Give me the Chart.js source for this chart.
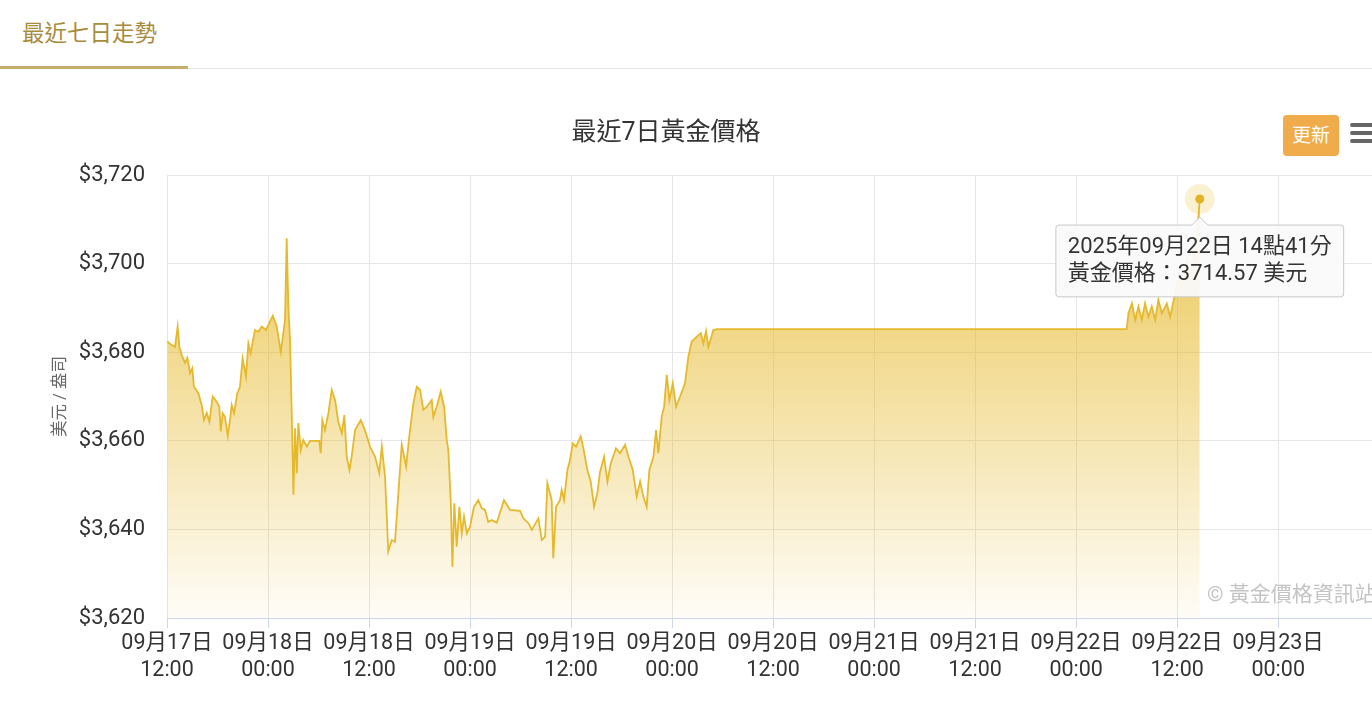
<!DOCTYPE html>
<html lang="zh-Hant">
<head>
<meta charset="utf-8">
<title>最近7日黃金價格</title>
<script src="https://cdn.jsdelivr.net/npm/chart.js@4.4.1/dist/chart.umd.min.js"></script>
<style>
    html, body {
        margin: 0;
        padding: 0;
        width: 1372px;
        height: 712px;
        overflow: hidden;
        background: #fff;
        font-family: Roboto, "Noto Sans CJK TC", sans-serif;
    }
    #wrap { position: absolute; left: 0; top: 0; width: 1420px; height: 712px; }
    #chart { position: absolute; left: 0; top: 0; }
    .tab { position: absolute; left: 22px; top: 15px; font-size: 22.5px; color: #a98b3d; }
    .tab-bar { position: absolute; left: 0; top: 66px; width: 188px; height: 3px; background: #c8ad6b; }
    .tab-line { position: absolute; left: 188px; top: 68px; width: 1200px; height: 1px; background: #e4e4e4; }
    .title { position: absolute; left: 0; top: 111px; width: 1332px; text-align: center; font-size: 25px; color: #333; }
    .btn {
        position: absolute; left: 1283px; top: 115px; width: 56px; height: 41px;
        background: #f0ab4b; border-radius: 4px; color: #fff; font-size: 19px;
        line-height: 41px; text-align: center;
    }
    .menu span { position: absolute; left: 1350px; width: 26px; height: 3.5px; background: #666; border-radius: 2px; }
    .credit { position: absolute; left: 1207px; top: 577px; font-size: 21px; color: #c4c4c4; white-space: nowrap; }
</style>
</head>
<body>
<div id="wrap">
    <div class="tab">最近七日走勢</div>
    <div class="tab-bar"></div>
    <div class="tab-line"></div>
    <canvas id="chart" width="1420" height="712"></canvas>
    <div class="title">最近7日黃金價格</div>
    <div class="btn">更新</div>
    <div class="menu"><span style="top:123px"></span><span style="top:131px"></span><span style="top:139px"></span></div>
    <div class="credit">© 黃金價格資訊站</div>
</div>
<script>
// quote times (Taipei, 2025)
const times = [
    '09-17 12:02', '09-17 12:34', '09-17 12:57', '09-17 13:16', '09-17 13:28', '09-17 13:45',
    '09-17 14:08', '09-17 14:25', '09-17 14:44', '09-17 15:00', '09-17 15:12', '09-17 15:43',
    '09-17 16:07', '09-17 16:24', '09-17 16:43', '09-17 17:02', '09-17 17:26', '09-17 17:54',
    '09-17 18:13', '09-17 18:23', '09-17 18:37', '09-17 18:53', '09-17 19:13', '09-17 19:29',
    '09-17 19:41', '09-17 19:58', '09-17 20:21', '09-17 20:40', '09-17 20:59', '09-17 21:23',
    '09-17 21:40', '09-17 21:56', '09-17 22:27', '09-17 22:51', '09-17 23:15', '09-17 23:46',
    '09-18 00:02', '09-18 00:34', '09-18 01:02', '09-18 01:31', '09-18 01:49', '09-18 02:01',
    '09-18 02:13', '09-18 02:25', '09-18 02:37', '09-18 02:49', '09-18 03:01', '09-18 03:13',
    '09-18 03:25', '09-18 03:36', '09-18 03:53', '09-18 04:11', '09-18 04:36', '09-18 04:59',
    '09-18 06:05', '09-18 06:16', '09-18 06:27', '09-18 06:46', '09-18 07:10', '09-18 07:34',
    '09-18 07:58', '09-18 08:21', '09-18 08:46', '09-18 09:04', '09-18 09:21', '09-18 09:40',
    '09-18 09:56', '09-18 10:20', '09-18 11:01', '09-18 11:31', '09-18 12:07', '09-18 12:43',
    '09-18 13:13', '09-18 13:31', '09-18 13:54', '09-18 14:17', '09-18 14:42', '09-18 15:05',
    '09-18 15:29', '09-18 15:53', '09-18 16:24', '09-18 16:47', '09-18 17:16', '09-18 17:40',
    '09-18 18:04', '09-18 18:27', '09-18 18:51', '09-18 19:27', '09-18 19:38', '09-18 20:02',
    '09-18 20:31', '09-18 20:55', '09-18 21:14', '09-18 21:25', '09-18 21:43', '09-18 21:54',
    '09-18 22:08', '09-18 22:25', '09-18 22:44', '09-18 23:01', '09-18 23:17', '09-18 23:37',
    '09-19 00:00', '09-19 00:28', '09-19 00:59', '09-19 01:23', '09-19 01:47', '09-19 02:10',
    '09-19 02:35', '09-19 03:10', '09-19 04:02', '09-19 04:45', '09-19 05:56', '09-19 06:20',
    '09-19 06:56', '09-19 07:20', '09-19 08:07', '09-19 08:31', '09-19 08:55', '09-19 09:11',
    '09-19 09:42', '09-19 09:53', '09-19 10:13', '09-19 10:41', '09-19 10:53', '09-19 11:10',
    '09-19 11:34', '09-19 11:53', '09-19 12:12', '09-19 12:35', '09-19 13:09', '09-19 13:28',
    '09-19 13:56', '09-19 14:20', '09-19 14:44', '09-19 15:07', '09-19 15:26', '09-19 15:55',
    '09-19 16:19', '09-19 16:43', '09-19 17:20', '09-19 17:49', '09-19 18:25', '09-19 18:49',
    '09-19 19:20', '09-19 19:48', '09-19 20:12', '09-19 20:35', '09-19 20:59', '09-19 21:18',
    '09-19 21:47', '09-19 22:06', '09-19 22:22', '09-19 22:46', '09-19 23:03', '09-19 23:22',
    '09-19 23:41', '09-20 00:05', '09-20 00:28', '09-20 00:57', '09-20 01:32', '09-20 01:56',
    '09-20 02:20', '09-20 02:56', '09-20 03:25', '09-20 03:43', '09-20 04:02', '09-20 04:19',
    '09-20 04:54', '09-20 05:19', '09-22 06:00', '09-22 06:13', '09-22 06:37', '09-22 07:01',
    '09-22 07:24', '09-22 07:48', '09-22 08:11', '09-22 08:35', '09-22 08:59', '09-22 09:23',
    '09-22 09:46', '09-22 10:11', '09-22 10:46', '09-22 11:10', '09-22 11:46', '09-22 12:09',
    '09-22 12:33', '09-22 13:09', '09-22 13:32', '09-22 13:56', '09-22 14:20', '09-22 14:41',
];

// USD per ounce
const prices = [
    3682.4, 3681.6, 3681.2, 3685.8, 3681.2, 3679.4,
    3677.6, 3678.7, 3675.3, 3676.4, 3672.2, 3670.8,
    3668.1, 3664.7, 3666.3, 3664.3, 3670.0, 3668.8,
    3667.7, 3662.1, 3666.2, 3665.4, 3661.1, 3664.7,
    3668.1, 3666.2, 3670.7, 3672.2, 3678.6, 3674.5,
    3682.0, 3679.8, 3685.0, 3684.6, 3685.8, 3685.0,
    3686.1, 3688.2, 3685.8, 3680.1, 3684.3, 3687.3,
    3705.7, 3690.3, 3682.8, 3666.2, 3647.8, 3662.8,
    3652.7, 3664.0, 3657.9, 3660.2, 3658.7, 3660.0,
    3660.0, 3657.2, 3664.7, 3662.4, 3666.2, 3671.5,
    3669.2, 3664.3, 3661.7, 3665.8, 3656.4, 3653.4,
    3656.4, 3662.4, 3664.7, 3662.4, 3658.7, 3656.4,
    3652.7, 3658.7, 3651.9, 3635.0, 3637.6, 3637.2,
    3648.1, 3659.1, 3654.2, 3661.0, 3668.5, 3672.2,
    3671.5, 3667.0, 3667.7, 3669.2, 3665.4, 3667.7,
    3671.1, 3667.7, 3660.2, 3657.9, 3645.9, 3631.6,
    3645.9, 3636.1, 3645.1, 3639.1, 3642.9, 3639.1,
    3640.6, 3645.1, 3646.6, 3644.8, 3644.4, 3641.7,
    3642.1, 3641.5, 3646.6, 3644.4, 3644.2, 3642.5,
    3641.4, 3639.9, 3642.5, 3637.6, 3638.3, 3650.4,
    3646.6, 3633.5, 3645.1, 3646.6, 3648.9, 3646.6,
    3653.4, 3655.7, 3659.4, 3658.7, 3661.0, 3658.3,
    3653.4, 3650.8, 3645.1, 3648.1, 3652.9, 3656.4,
    3650.8, 3654.9, 3658.3, 3657.2, 3659.1, 3656.4,
    3653.4, 3647.4, 3650.8, 3647.4, 3645.1, 3653.4,
    3656.4, 3662.4, 3657.2, 3665.4, 3667.7, 3674.9,
    3669.2, 3673.0, 3667.7, 3670.0, 3673.0, 3679.0,
    3682.4, 3683.5, 3684.3, 3682.0, 3684.8, 3681.2,
    3685.0, 3685.2, 3685.2, 3688.8, 3691.0, 3687.3,
    3690.3, 3687.3, 3691.0, 3688.0, 3690.3, 3687.3,
    3691.8, 3688.8, 3691.0, 3688.0, 3693.3, 3697.0,
    3694.0, 3700.1, 3696.3, 3700.8, 3706.1, 3714.57,
];

const yTicks = { min: 3620, max: 3720, step: 20 };
const xRangeHours = { min: 0, max: 143.5, step: 12 }; // hours after 09-17 12:00

const FONT = 'Roboto, "Noto Sans CJK TC", sans-serif';
const GOLD = '#e6b92c';

// '09-18 02:13' -> hours since 09-17 12:00
function toHours(s) {
    const day = +s.slice(3, 5);
    const hh = +s.slice(6, 8);
    const mm = +s.slice(9, 11);
    return (day - 17) * 24 + hh + mm / 60 - 12;
}

function pad2(n) {
    return String(n).padStart(2, '0');
}

const points = times.map((t, i) => ({ x: toHours(t), y: prices[i] }));
const last = points[points.length - 1];

const ctx = document.getElementById('chart').getContext('2d');

const chart = new Chart(ctx, {
    type: 'line',
    data: {
        datasets: [
            {
                label: '黃金價格',
                data: points,
                borderColor: GOLD,
                borderWidth: 1.8,
                pointRadius: 0,
                pointHoverRadius: 4.5,
                pointHoverBackgroundColor: '#e2b425',
                pointHoverBorderWidth: 0,
                tension: 0,
                fill: 'start',
                backgroundColor: (c) => {
                    const area = c.chart.chartArea;
                    if (!area) {
                        return 'rgba(230,185,44,0.5)';
                    }
                    const g = c.chart.ctx.createLinearGradient(0, area.top, 0, area.bottom);
                    g.addColorStop(0, 'rgba(230,185,44,0.85)');
                    g.addColorStop(1, 'rgba(230,185,44,0.04)');
                    return g;
                },
            },
            {
                // hover halo around the last quote
                label: 'halo',
                data: [last],
                pointRadius: 15,
                pointBackgroundColor: 'rgba(236,200,80,0.25)',
                pointBorderWidth: 0,
                showLine: false,
                fill: false,
            },
        ],
    },
    options: {
        responsive: false,
        animation: false,
        events: [],
        layout: {
            padding: { top: 175, right: 45, bottom: 0, left: 0 },
        },
        plugins: {
            legend: { display: false },
            title: { display: false },
            tooltip: {
                filter: (item) => item.datasetIndex === 0,
                backgroundColor: 'rgba(250,250,250,0.94)',
                borderColor: '#c9c9c9',
                borderWidth: 1,
                titleColor: '#333',
                bodyColor: '#333',
                titleFont: { family: FONT, size: 22, weight: 'normal' },
                bodyFont: { family: FONT, size: 22 },
                padding: { x: 12, y: 9 },
                titleMarginBottom: 1,
                displayColors: false,
                caretSize: 8,
                caretPadding: 18,
                cornerRadius: 3,
                xAlign: 'center',
                yAlign: 'top',
                callbacks: {
                    title: (items) => {
                        const t = times[items[0].dataIndex];
                        return '2025年' + t.slice(0, 2) + '月' + t.slice(3, 5) + '日 '
                            + t.slice(6, 8) + '點' + t.slice(9, 11) + '分';
                    },
                    label: (item) => '黃金價格：' + prices[item.dataIndex].toFixed(2) + ' 美元',
                },
            },
        },
        scales: {
            x: {
                type: 'linear',
                min: xRangeHours.min,
                max: xRangeHours.max,
                afterFit: (scale) => { scale.height = 94; },
                border: { display: true, color: '#ccd6eb', width: 1 },
                grid: {
                    color: '#e6e6e6',
                    tickColor: '#ccd6eb',
                    tickLength: 10,
                    drawTicks: true,
                },
                ticks: {
                    stepSize: xRangeHours.step,
                    includeBounds: false,
                    maxRotation: 0,
                    autoSkip: false,
                    padding: 2,
                    color: '#333',
                    font: { family: FONT, size: 21.5, lineHeight: 1.27 },
                    callback: (v) => {
                        const abs = v + 12;
                        const day = 17 + Math.floor(abs / 24);
                        const hour = abs % 24;
                        return ['09月' + day + '日', pad2(hour) + ':00'];
                    },
                },
            },
            y: {
                min: yTicks.min,
                max: yTicks.max,
                afterFit: (scale) => { scale.width = 167; },
                border: { display: false },
                grid: { color: '#e6e6e6', drawTicks: false },
                ticks: {
                    stepSize: yTicks.step,
                    padding: 22,
                    color: '#333',
                    font: { family: FONT, size: 22 },
                    callback: (v) => '$' + v.toLocaleString('en-US'),
                },
                title: {
                    display: true,
                    text: '美元 / 盎司',
                    color: '#666',
                    font: { family: FONT, size: 16.5 },
                    padding: { top: 51, bottom: 0 },
                },
            },
        },
    },
});

// show the latest quote the way the page does on load
const active = [{ datasetIndex: 0, index: points.length - 1 }];
chart.setActiveElements(active);
chart.tooltip.setActiveElements(active, { x: 0, y: 0 });
chart.update();
</script>
</body>
</html>
